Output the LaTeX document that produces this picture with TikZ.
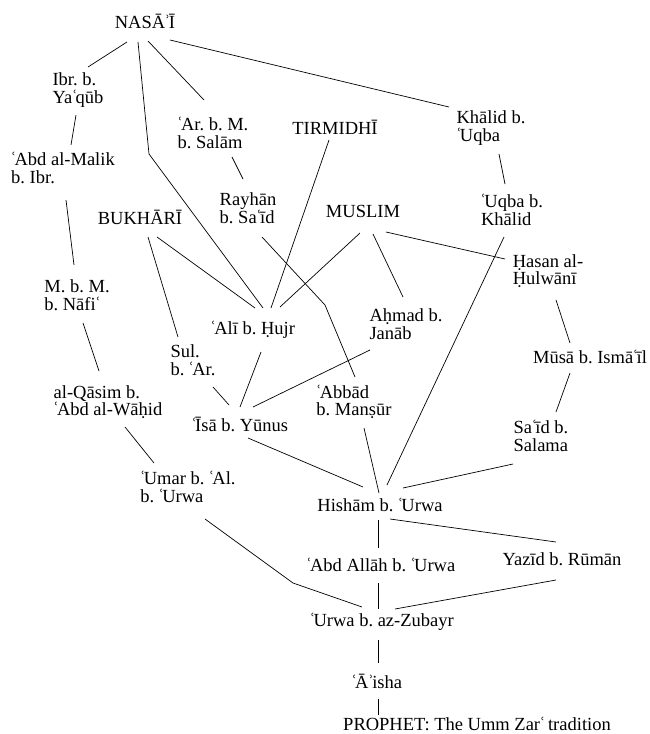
\documentclass[tikz,border=0pt]{standalone}
\usepackage{fontspec}
\setmainfont{Liberation Serif}
\usetikzlibrary{calc}
% ʿayn and hamza, set tight against their neighbours
\newcommand\ay{\kern-0.8pt ʿ\kern-2pt}
\newcommand\hz{\kern-0.8pt ʾ\kern-1.6pt}
% a connector given by offsets from the centres of two named nodes
\newcommand\lnk[4]{\draw[link] ($(#1)+(#2)$) -- ($(#3)+(#4)$);}
\begin{document}
\begin{tikzpicture}[x=1pt,y=-1pt,
  who/.style={inner sep=0pt, align=left, font=\fontsize{18.5}{17.5}\selectfont\frenchspacing},
  link/.style={line width=0.7pt}]
\useasboundingbox (0,0) rectangle (649,734);

% transmitters
\node[who] (nasai)    at (145,21)  {NASĀ\hz Ī};
\node[who] (ibr)      at (78,90)   {Ibr. b.\\Ya\ay qūb};
\node[who] (armb)     at (213,133) {\ay Ar. b. M.\\b. Salām};
\node[who] (tirm)     at (335,127) {TIRMIDHĪ};
\node[who] (khalid)   at (491,128) {Khālid b.\\\ay Uqba};
\node[who] (malik)    at (63,168)  {\ay Abd al-Malik\\b. Ibr.};
\node[who] (rayhan)   at (248,208) {Rayhān\\b. Sa\ay īd};
\node[who] (bukhari)  at (140,217) {BUKHĀRĪ};
\node[who] (muslim)   at (363,211) {MUSLIM};
\node[who] (uqba)     at (512,210) {\ay Uqba b.\\Khālid};
\node[who] (hasan)    at (548,271) {Ḥasan al-\\Ḥulwānī};
\node[who] (mbm)      at (77,295)  {M. b. M.\\b. Nāfi\ay};
\node[who] (ali)      at (253,330) {\ay Alī b. Ḥujr};
\node[who] (ahmad)    at (406,324) {Aḥmad b.\\Janāb};
\node[who] (sul)      at (193,360) {Sul.\\b. \ay Ar.};
\node[who] (musa)     at (590,357) {Mūsā b. Ismā\ay īl};
\node[who] (qasim)    at (108,402) {al-Qāsim b.\\\ay Abd al-Wāḥid};
\node[who] (abbad)    at (354,402) {\ay Abbād\\b. Manṣūr};
\node[who] (isa)      at (240,424) {\ay Īsā b. Yūnus};
\node[who] (said)     at (541,436) {Sa\ay īd b.\\Salama};
\node[who] (umar)     at (188,487) {\ay Umar b. \ay Al.\\b. \ay Urwa};
\node[who] (hisham)   at (380,505) {Hishām b. \ay Urwa};
\node[who] (abdallah) at (381,565) {\ay Abd Allāh b. \ay Urwa};
\node[who] (yazid)    at (562,559) {Yazīd b. Rūmān};
\node[who] (urwa)     at (382,622) {\ay Urwa b. az-Zubayr};
\node[who] (aisha)    at (377,681) {\ay Ā\hz isha};
\node[who] (prophet)  at (477,724) {PROPHET: The Umm Zar\ay{} tradition};

% chains of transmission
\lnk{nasai}{-18,21}{ibr}{10,-23}
\draw[link] ($(nasai)+(-7,21)$) -- ($(nasai)+(4,133)$) -- ($(ali)+(10,-22)$);
\lnk{nasai}{3,20}{armb}{-9,-33}
\lnk{nasai}{25,19}{khalid}{-42,-21}
\lnk{ibr}{-2,25}{malik}{8,-23}
\lnk{armb}{19,24}{rayhan}{-5,-29}
\lnk{tirm}{-6,13}{ali}{18,-22}
\lnk{khalid}{8,26}{uqba}{-7,-26}
\lnk{malik}{3,32}{mbm}{-3,-30}
\draw[link] ($(rayhan)+(14,29)$) -- ($(rayhan)+(77,97)$) -- ($(abbad)+(1,-25)$);
\lnk{bukhari}{17,20}{ali}{2,-22}
\lnk{bukhari}{8,20}{sul}{-15,-23}
\lnk{muslim}{-3,22}{ali}{27,-23}
\lnk{muslim}{10,23}{ahmad}{-3,-27}
\lnk{muslim}{23,21}{hasan}{-43,-12}
\lnk{uqba}{-8,27}{hisham}{7,-20}
\lnk{isa}{8,14}{hisham}{-17,-18}
\lnk{ali}{8,22}{isa}{0,-17}
\lnk{sul}{20,27}{isa}{-11,-19}
\lnk{ahmad}{-36,26}{isa}{13,-17}
\lnk{hasan}{8,29}{musa}{-20,-14}
\lnk{musa}{-20,16}{said}{15,-24}
\lnk{said}{-28,28}{hisham}{23,-17}
\lnk{mbm}{6,28}{qasim}{-9,-31}
\lnk{qasim}{17,25}{umar}{-34,-24}
\lnk{abbad}{10,26}{hisham}{-1,-12}
\draw[link] ($(umar)+(17,32)$) -- ($(umar)+(105,96)$) -- ($(urwa)+(-20,-15)$);
\lnk{hisham}{-2,15}{abdallah}{-3,-17}
\lnk{hisham}{10,14}{yazid}{-6,-17}
\lnk{abdallah}{-3,18}{urwa}{-4,-13}
\lnk{yazid}{-6,21}{urwa}{13,-13}
\lnk{urwa}{-4,18}{aisha}{1,-18}
\lnk{aisha}{1,18}{prophet}{-99,-9}
\end{tikzpicture}
\end{document}
